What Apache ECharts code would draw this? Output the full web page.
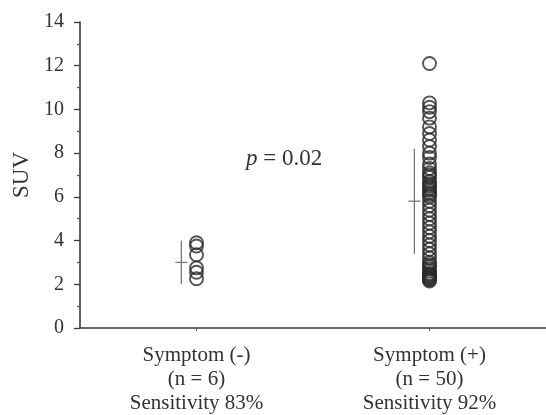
<!DOCTYPE html>
<html>
<head>
<meta charset="utf-8">
<title>SUV by symptom group</title>
<script src="https://cdn.jsdelivr.net/npm/echarts@6/dist/echarts.min.js"></script>
<style>
  html, body { margin: 0; padding: 0; background: #ffffff; }
  #chart { width: 546px; height: 415px; }
</style>
</head>
<body>
<div id="chart"></div>
<script>
// Group positions on the x axis and their labels
const groupPositions = [1, 3];
const groupLabels = [
  'Symptom (-)\n(n = 6)\nSensitivity 83%',
  'Symptom (+)\n(n = 50)\nSensitivity 92%'
];

// SUV values per patient
const suvSymptomNeg = [3.9, 3.75, 3.35, 2.75, 2.55, 2.25];
const suvSymptomPos = [
  12.1,
  10.3, 10.1, 9.9, 9.6, 9.2, 8.9, 8.6, 8.3, 8.0, 7.8,
  7.5, 7.3, 7.1, 7.0, 6.9, 6.7, 6.6, 6.5, 6.4, 6.3,
  6.2, 6.1, 6.0, 5.8, 5.6, 5.4, 5.2, 5.0, 4.8, 4.6,
  4.4, 4.2, 4.0, 3.8, 3.6, 3.4, 3.2, 3.0, 2.9, 2.8,
  2.7, 2.6, 2.5, 2.45, 2.4, 2.35, 2.3, 2.25, 2.2, 2.15
];

// Mean and standard deviation per group
const groupMeans = [3.0, 5.8];
const groupSDs = [1.0, 2.4];

// Y axis ticks
const yTicks = [0, 2, 4, 6, 8, 10, 12, 14];

const pValueText = '0.02';

const serif = '"Liberation Serif", "DejaVu Serif", serif';
const ink = '#333333';

const chart = echarts.init(document.getElementById('chart'), null, { renderer: 'canvas' });

const scatterNeg = suvSymptomNeg.map(v => [groupPositions[0], v]);
const scatterPos = suvSymptomPos.map(v => [groupPositions[1], v]);
const summary = groupPositions.map((x, i) => [x, groupMeans[i], groupSDs[i]]);

const circleStyle = { color: 'rgba(0,0,0,0)', borderColor: '#2a2a2a', borderWidth: 1.9 };

const option = {
  backgroundColor: '#ffffff',
  animation: false,
  grid: { left: 80, right: 0, top: 22, bottom: 86, containLabel: false },
  xAxis: {
    type: 'value',
    min: 0,
    max: 4,
    axisLine: { show: true, lineStyle: { color: '#3a3a3a', width: 1.6 } },
    axisTick: { show: true, customValues: groupPositions, length: 3, lineStyle: { color: '#555' } },
    axisLabel: {
      customValues: groupPositions,
      formatter: v => groupLabels[groupPositions.indexOf(v)] || '',
      margin: 15,
      fontFamily: serif,
      fontSize: 21,
      lineHeight: 24,
      color: ink
    },
    splitLine: { show: false }
  },
  yAxis: {
    type: 'value',
    min: yTicks[0],
    max: yTicks[yTicks.length - 1],
    interval: yTicks[1] - yTicks[0],
    offset: 5,
    name: 'SUV',
    nameLocation: 'middle',
    nameGap: 40,
    nameTextStyle: { fontFamily: serif, fontSize: 23, color: ink },
    axisLine: { show: true, lineStyle: { color: '#3a3a3a', width: 1.6 } },
    axisTick: { show: true, length: 6, lineStyle: { color: '#3a3a3a', width: 1.3 } },
    minorTick: { show: true, splitNumber: 2, length: 3, lineStyle: { color: '#555', width: 1.3 } },
    axisLabel: { margin: 11, fontFamily: serif, fontSize: 20, color: ink },
    splitLine: { show: false }
  },
  graphic: [{
    type: 'text',
    left: 246,
    top: 147,
    style: {
      text: '{i|p} = ' + pValueText,
      fontFamily: serif,
      fontSize: 23,
      fill: ink,
      rich: { i: { fontStyle: 'italic', fontFamily: serif, fontSize: 23, fill: ink } }
    }
  }],
  series: [
    {
      type: 'scatter',
      data: scatterNeg,
      symbol: 'circle',
      symbolSize: 13,
      itemStyle: circleStyle
    },
    {
      type: 'scatter',
      data: scatterPos,
      symbol: 'circle',
      symbolSize: 13,
      itemStyle: circleStyle
    },
    {
      // mean ± SD cross drawn just left of each column
      type: 'custom',
      data: summary,
      renderItem: function (params, api) {
        const x = api.value(0) - 0.13;
        const m = api.value(1);
        const s = api.value(2);
        const c = api.coord([x, m]);
        const top = api.coord([x, m + s]);
        const bot = api.coord([x, m - s]);
        const half = 6;
        const style = { stroke: '#777', lineWidth: 1.3 };
        return {
          type: 'group',
          children: [
            { type: 'line', shape: { x1: top[0], y1: top[1], x2: bot[0], y2: bot[1] }, style: style },
            { type: 'line', shape: { x1: c[0] - half, y1: c[1], x2: c[0] + half, y2: c[1] }, style: style }
          ]
        };
      }
    }
  ]
};

chart.setOption(option);
</script>
</body>
</html>
